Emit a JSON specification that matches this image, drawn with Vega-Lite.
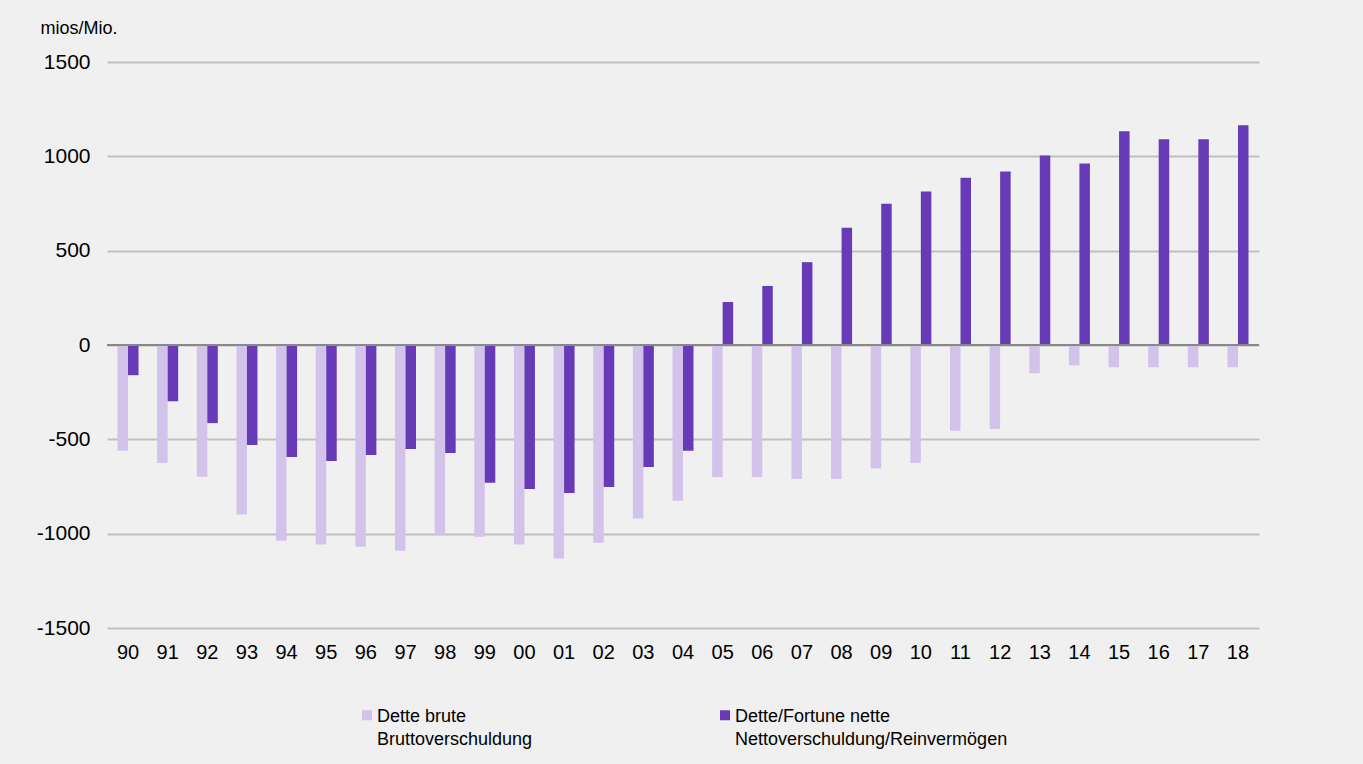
{
  "$schema": "https://vega.github.io/schema/vega-lite/v6.json",
  "width": 1152,
  "height": 566,
  "autosize": "none",
  "padding": {"left": 107, "top": 62, "right": 104, "bottom": 136},
  "background": "#f0f0f0",
  "config": {
    "view": {"stroke": null},
    "font": "Liberation Sans"
  },
  "data": {
    "values": [
      {"year": "90", "series": "Dette brute", "value": -560},
      {"year": "91", "series": "Dette brute", "value": -626},
      {"year": "92", "series": "Dette brute", "value": -698},
      {"year": "93", "series": "Dette brute", "value": -899},
      {"year": "94", "series": "Dette brute", "value": -1037},
      {"year": "95", "series": "Dette brute", "value": -1058},
      {"year": "96", "series": "Dette brute", "value": -1069},
      {"year": "97", "series": "Dette brute", "value": -1090},
      {"year": "98", "series": "Dette brute", "value": -1005},
      {"year": "99", "series": "Dette brute", "value": -1016},
      {"year": "00", "series": "Dette brute", "value": -1058},
      {"year": "01", "series": "Dette brute", "value": -1132},
      {"year": "02", "series": "Dette brute", "value": -1048},
      {"year": "03", "series": "Dette brute", "value": -920},
      {"year": "04", "series": "Dette brute", "value": -825},
      {"year": "05", "series": "Dette brute", "value": -700},
      {"year": "06", "series": "Dette brute", "value": -700},
      {"year": "07", "series": "Dette brute", "value": -710},
      {"year": "08", "series": "Dette brute", "value": -710},
      {"year": "09", "series": "Dette brute", "value": -655},
      {"year": "10", "series": "Dette brute", "value": -625},
      {"year": "11", "series": "Dette brute", "value": -455},
      {"year": "12", "series": "Dette brute", "value": -445},
      {"year": "13", "series": "Dette brute", "value": -150},
      {"year": "14", "series": "Dette brute", "value": -108},
      {"year": "15", "series": "Dette brute", "value": -118},
      {"year": "16", "series": "Dette brute", "value": -118},
      {"year": "17", "series": "Dette brute", "value": -118},
      {"year": "18", "series": "Dette brute", "value": -118},
      {"year": "90", "series": "Dette/Fortune nette", "value": -160},
      {"year": "91", "series": "Dette/Fortune nette", "value": -298},
      {"year": "92", "series": "Dette/Fortune nette", "value": -414},
      {"year": "93", "series": "Dette/Fortune nette", "value": -530},
      {"year": "94", "series": "Dette/Fortune nette", "value": -594},
      {"year": "95", "series": "Dette/Fortune nette", "value": -615},
      {"year": "96", "series": "Dette/Fortune nette", "value": -583},
      {"year": "97", "series": "Dette/Fortune nette", "value": -551},
      {"year": "98", "series": "Dette/Fortune nette", "value": -573},
      {"year": "99", "series": "Dette/Fortune nette", "value": -730},
      {"year": "00", "series": "Dette/Fortune nette", "value": -763},
      {"year": "01", "series": "Dette/Fortune nette", "value": -784},
      {"year": "02", "series": "Dette/Fortune nette", "value": -752},
      {"year": "03", "series": "Dette/Fortune nette", "value": -647},
      {"year": "04", "series": "Dette/Fortune nette", "value": -560},
      {"year": "05", "series": "Dette/Fortune nette", "value": 228},
      {"year": "06", "series": "Dette/Fortune nette", "value": 313},
      {"year": "07", "series": "Dette/Fortune nette", "value": 439},
      {"year": "08", "series": "Dette/Fortune nette", "value": 621},
      {"year": "09", "series": "Dette/Fortune nette", "value": 749},
      {"year": "10", "series": "Dette/Fortune nette", "value": 813},
      {"year": "11", "series": "Dette/Fortune nette", "value": 887},
      {"year": "12", "series": "Dette/Fortune nette", "value": 919},
      {"year": "13", "series": "Dette/Fortune nette", "value": 1005},
      {"year": "14", "series": "Dette/Fortune nette", "value": 962},
      {"year": "15", "series": "Dette/Fortune nette", "value": 1133},
      {"year": "16", "series": "Dette/Fortune nette", "value": 1090},
      {"year": "17", "series": "Dette/Fortune nette", "value": 1090},
      {"year": "18", "series": "Dette/Fortune nette", "value": 1165}
    ]
  },
  "layer": [
    {
      "mark": {"type": "bar"},
      "encoding": {
        "x": {
          "field": "year",
          "type": "nominal",
          "sort": null,
          "scale": {"paddingInner": 0.47, "paddingOuter": 0.265},
          "axis": {
            "title": null,
            "domain": false,
            "ticks": false,
            "labelAngle": 0,
            "labelFontSize": 20,
            "labelColor": "#000000",
            "labelPadding": 14
          }
        },
        "xOffset": {"field": "series", "type": "nominal", "sort": null},
        "y": {
          "field": "value",
          "type": "quantitative",
          "scale": {"domain": [-1500, 1500], "nice": false},
          "axis": {
            "values": [-1500, -1000, -500, 0, 500, 1000, 1500],
            "labelExpr": "'' + datum.value",
            "domain": false,
            "ticks": false,
            "gridColor": "#c0c0c0",
            "gridWidth": 2,
            "labelFontSize": 21,
            "labelColor": "#000000",
            "labelPadding": 17,
            "title": "mios/Mio.",
            "titleAngle": 0,
            "titleFontSize": 18,
            "titleFontWeight": "normal",
            "titleColor": "#000000",
            "titleAlign": "left",
            "titleBaseline": "middle",
            "titleX": -67,
            "titleY": -34
          }
        },
        "color": {
          "field": "series",
          "type": "nominal",
          "sort": null,
          "scale": {
            "domain": ["Dette brute", "Dette/Fortune nette"],
            "range": ["#d3c3eb", "#673ab7"]
          },
          "legend": {
            "title": null,
            "orient": "none",
            "direction": "horizontal",
            "columns": 2,
            "legendX": 251,
            "legendY": 644,
            "symbolType": "square",
            "symbolSize": 100,
            "symbolStrokeWidth": 0,
            "labelFontSize": 18,
            "labelColor": "#000000",
            "labelOffset": 1,
            "labelLimit": 400,
            "columnPadding": 183,
            "labelExpr": "datum.label == 'Dette brute' ? ['Dette brute', 'Bruttoverschuldung'] : ['Dette/Fortune nette', 'Nettoverschuldung/Reinvermögen']",
            "encode": {
              "labels": {"update": {"dy": {"value": 1.5}, "lineHeight": {"value": 23}}}
            }
          }
        }
      }
    },
    {
      "mark": {"type": "rule", "color": "#888888", "strokeWidth": 2},
      "encoding": {"y": {"datum": 0}}
    }
  ]
}
